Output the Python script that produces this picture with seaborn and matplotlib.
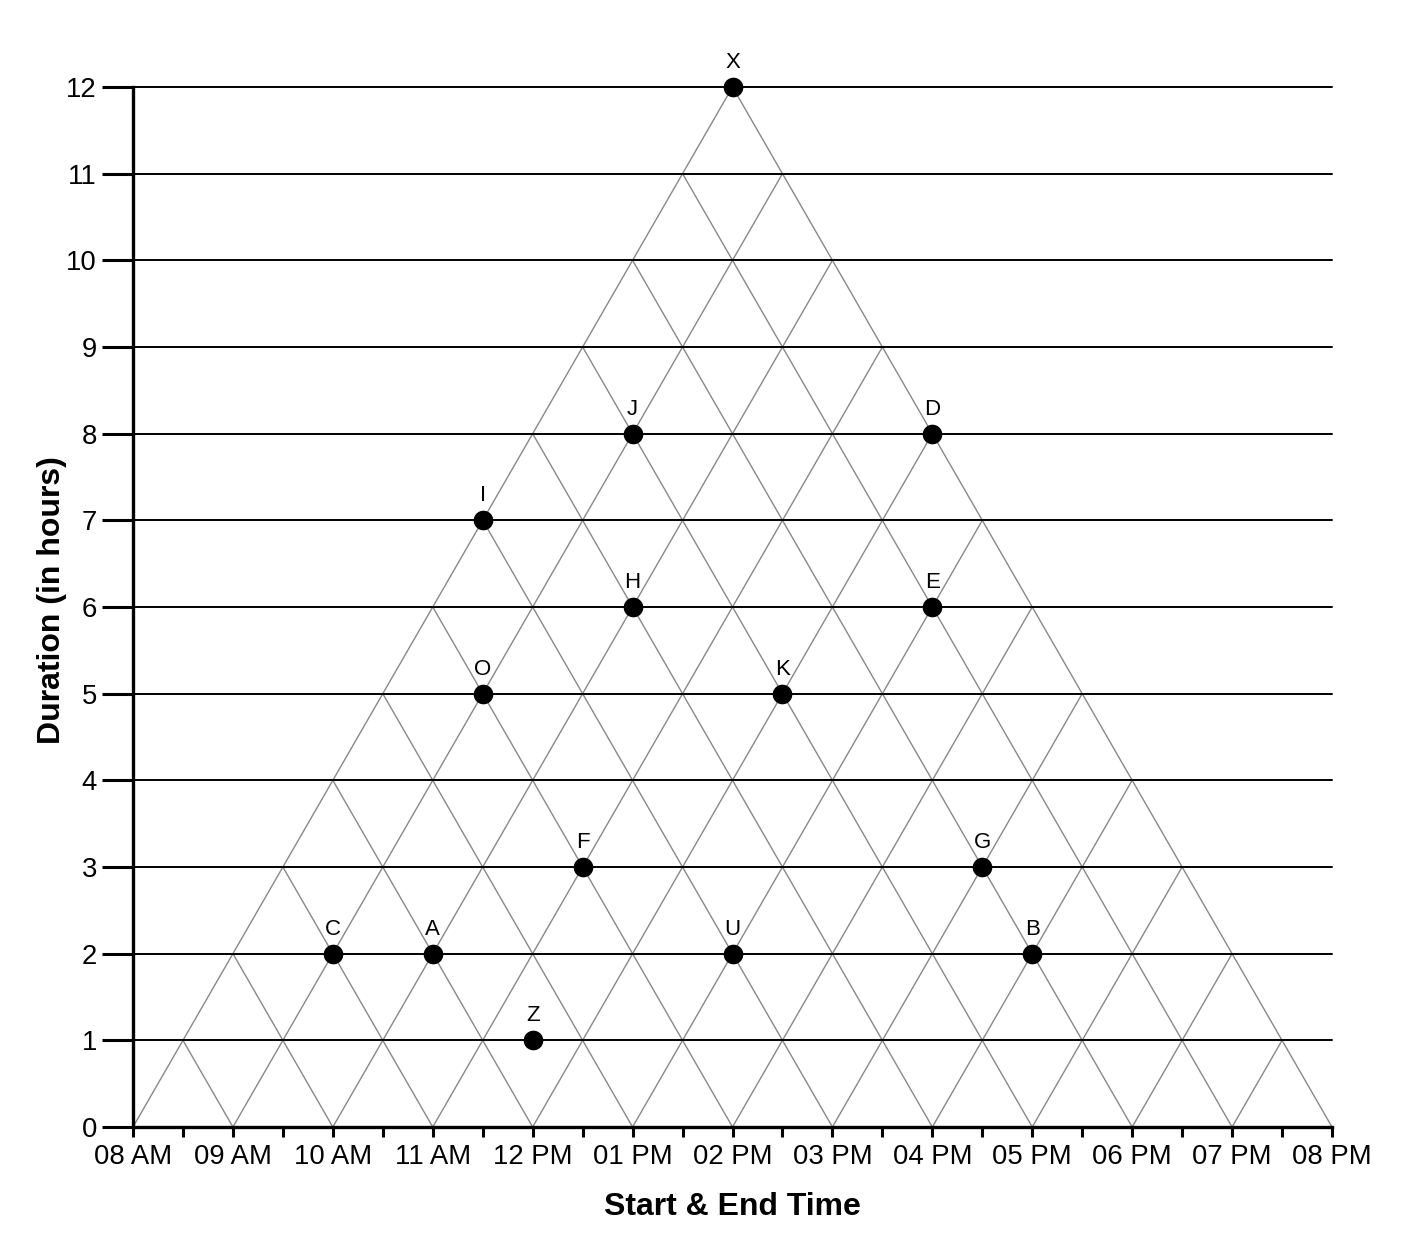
import numpy as np
import pandas as pd
import seaborn as sns
import matplotlib.pyplot as plt

# ── Data ───────────────────────────────────────────────────────────────────
labels = ["X", "J", "D", "I", "H", "E", "O", "K", "F", "G", "C", "A", "U", "B", "Z"]
starts = [8, 9, 12, 8, 10, 13, 9, 12, 11, 15, 9, 10, 13, 16, 11.5]
ends   = [20, 17, 20, 15, 16, 19, 14, 17, 14, 18, 11, 12, 15, 18, 12.5]

hours = list(range(8, 21))
hour_labels = ["08 AM", "09 AM", "10 AM", "11 AM", "12 PM", "01 PM", "02 PM",
               "03 PM", "04 PM", "05 PM", "06 PM", "07 PM", "08 PM"]

df = pd.DataFrame({"label": labels, "start": starts, "end": ends})
df["mid"] = (df["start"] + df["end"]) / 2
df["duration"] = df["end"] - df["start"]

# ── Style ──────────────────────────────────────────────────────────────────
sns.set_style("ticks")
plt.rcParams["font.family"] = ["Liberation Sans", "DejaVu Sans"]
for k in ["text.color", "axes.labelcolor", "xtick.color", "ytick.color", "axes.edgecolor"]:
    plt.rcParams[k] = "black"

fig = plt.figure(figsize=(14.16, 12.52), dpi=100)
ax = fig.add_axes([133 / 1416, 125 / 1252, 1199 / 1416, 1040 / 1252])

t0, t1 = hours[0], hours[-1]

# triangular grid: constant start / constant end lines
for h in hours:
    ax.plot([h, (h + t1) / 2], [0, t1 - h], color="#888888", lw=1.0, zorder=1)
    ax.plot([h, (h + t0) / 2], [0, h - t0], color="#888888", lw=1.0, zorder=1)

# horizontal duration lines
for d in range(1, 13):
    ax.axhline(d, color="black", lw=1.4, zorder=2, clip_on=False)

sns.scatterplot(data=df, x="mid", y="duration", ax=ax, color="black",
                s=200, edgecolor="black", linewidth=0, zorder=3, clip_on=False,
                legend=False)

for _, row in df.iterrows():
    ax.annotate(row["label"], (row["mid"], row["duration"]),
                xytext=(0, 10), textcoords="offset points",
                ha="center", va="bottom", fontsize=16)

ax.set_xlim(t0, t1)
ax.set_ylim(0, 12)
ax.set_xticks(hours)
ax.set_xticklabels(hour_labels)
ax.set_xticks(np.arange(8.5, 20, 1), minor=True)
ax.set_yticks(range(0, 13))

ax.tick_params(axis="x", which="both", length=7, width=2.2, labelsize=19.8, pad=5)
ax.tick_params(axis="y", length=22, width=2.2, labelsize=19.8, pad=4)

for s in ["top", "right"]:
    ax.spines[s].set_visible(False)
for s in ["left", "bottom"]:
    ax.spines[s].set_linewidth(2.4)

ax.set_xlabel("Start & End Time", fontsize=23, fontweight="bold", labelpad=16)
ax.set_ylabel("Duration (in hours)", fontsize=23, fontweight="bold")
ax.yaxis.set_label_coords(-0.055, 0.507)

fig.savefig("out.png", dpi=100)
